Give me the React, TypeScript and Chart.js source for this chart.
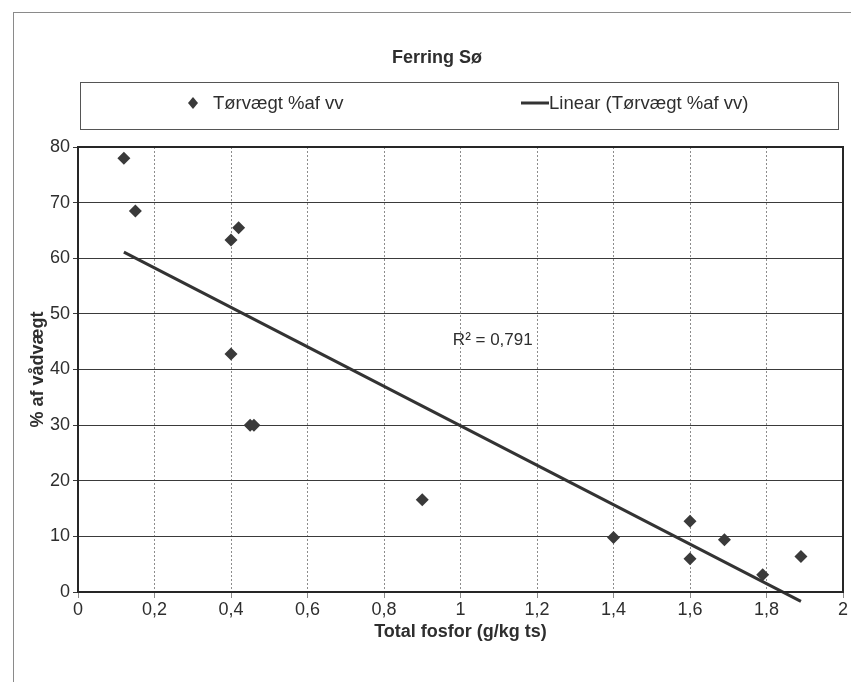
import React, { useEffect, useRef } from "react";
import { Chart, registerables } from "chart.js";

Chart.register(...registerables);

const titleText = "Ferring Sø";
const seriesName = "Tørvægt %af vv";
const trendName = "Linear (Tørvægt %af vv)";
const xAxisTitle = "Total fosfor (g/kg ts)";
const yAxisTitle = "% af vådvægt";
const rSquaredLabel = "R² = 0,791";

const phosphorus = [0.12, 0.15, 0.4, 0.42, 0.4, 0.45, 0.46, 0.9, 1.4, 1.6, 1.6, 1.69, 1.79, 1.89];
const dryWeight = [78, 68.5, 63.3, 65.5, 42.8, 30, 30, 16.6, 9.8, 12.7, 6, 9.4, 3.1, 6.4];
const trendX = [0.12, 1.89];
const trendY = [61.1, -1.7];
const rLabelAt = [0.98, 45.3];

const FONT = "'Liberation Sans Narrow', 'Liberation Sans', Arial, sans-serif";
const INK = "#2e2e2e";

const decoPlugin = {
  id: "deco",
  afterDraw(chart: any) {
    const ctx = chart.ctx;
    const ca = chart.chartArea;
    ctx.save();
    // outer frame
    ctx.strokeStyle = "#8a8a8a";
    ctx.lineWidth = 1;
    ctx.strokeRect(13.5, 12.5, 1000, 1000);
    // title
    ctx.fillStyle = INK;
    ctx.font = `bold 18px ${FONT}`;
    ctx.textAlign = "center";
    ctx.textBaseline = "middle";
    ctx.fillText(titleText, 437, 58);
    // legend box
    ctx.strokeStyle = "#555";
    ctx.strokeRect(80.5, 82.5, 758, 47);
    ctx.font = `18.5px ${FONT}`;
    ctx.textAlign = "left";
    // diamond
    ctx.fillStyle = "#3a3a3a";
    ctx.beginPath();
    ctx.moveTo(193, 97);
    ctx.lineTo(198, 103);
    ctx.lineTo(193, 109);
    ctx.lineTo(188, 103);
    ctx.closePath();
    ctx.fill();
    ctx.fillStyle = INK;
    ctx.fillText(seriesName, 213, 104);
    ctx.strokeStyle = "#333";
    ctx.lineWidth = 3;
    ctx.beginPath();
    ctx.moveTo(521, 103);
    ctx.lineTo(549, 103);
    ctx.stroke();
    ctx.fillText(trendName, 549, 104);
    // plot frame
    ctx.lineWidth = 2;
    ctx.strokeStyle = "#262626";
    ctx.strokeRect(ca.left, ca.top, ca.right - ca.left, ca.bottom - ca.top);
    // R² label
    const xs = chart.scales.x;
    const ys = chart.scales.y;
    ctx.font = `17px ${FONT}`;
    ctx.fillStyle = INK;
    ctx.textBaseline = "middle";
    ctx.fillText(rSquaredLabel, xs.getPixelForValue(rLabelAt[0]), ys.getPixelForValue(rLabelAt[1]));
    ctx.restore();
  },
};

const fmt = (v: number) => String(Math.round(v * 10) / 10).replace(".", ",");

export default function App() {
  const ref = useRef<HTMLCanvasElement | null>(null);
  useEffect(() => {
    if (!ref.current) return;
    const chart = new Chart(ref.current, {
      type: "scatter",
      data: {
        datasets: [
          {
            label: trendName,
            data: trendX.map((x, i) => ({ x, y: trendY[i] })),
            showLine: true,
            borderColor: "#333",
            borderWidth: 3,
            pointRadius: 0,
            clip: false as any,
          },
          {
            label: seriesName,
            data: phosphorus.map((x, i) => ({ x, y: dryWeight[i] })),
            pointStyle: "rectRot",
            pointRadius: 6.5,
            backgroundColor: "#3a3a3a",
            borderColor: "#3a3a3a",
            borderWidth: 0,
          },
        ],
      },
      options: {
        responsive: false,
        animation: false,
        devicePixelRatio: 1,
        layout: { padding: { top: 147, left: 0, right: 8, bottom: 0 } },
        plugins: { legend: { display: false }, title: { display: false }, tooltip: { enabled: false } },
        scales: {
          x: {
            type: "linear",
            min: 0,
            max: 2,
            afterFit: (s: any) => { s.height = 90; },
            ticks: {
              stepSize: 0.2,
              color: INK,
              font: { family: FONT, size: 18 },
              padding: 1,
              maxRotation: 0,
              callback: (v: any) => fmt(Number(v)),
            },
            grid: { color: "#8c8c8c", lineWidth: 1, tickLength: 6, drawTicks: true, tickBorderDash: [] },
            border: { display: false, dash: [2, 2] },
            title: {
              display: true,
              text: xAxisTitle,
              color: INK,
              font: { family: FONT, size: 18, weight: "bold" },
              padding: { top: 0, bottom: 39 },
            },
          },
          y: {
            type: "linear",
            min: 0,
            max: 80,
            afterFit: (s: any) => { s.width = 78; },
            ticks: {
              stepSize: 10,
              color: INK,
              font: { family: FONT, size: 18 },
              padding: 3,
            },
            grid: { color: "#3a3a3a", lineWidth: 1, tickLength: 5 },
            border: { display: false },
            title: {
              display: true,
              text: yAxisTitle,
              color: INK,
              font: { family: FONT, size: 18, weight: "bold" },
              padding: { top: 27, bottom: 0 },
            },
          },
        },
      },
      plugins: [decoPlugin],
    } as any);
    return () => chart.destroy();
  }, []);
  return (
    <div style={{ position: "fixed", left: 0, top: 0, width: 851, height: 682, background: "#fff" }}>
      <canvas ref={ref} width={851} height={682} />
    </div>
  );
}
